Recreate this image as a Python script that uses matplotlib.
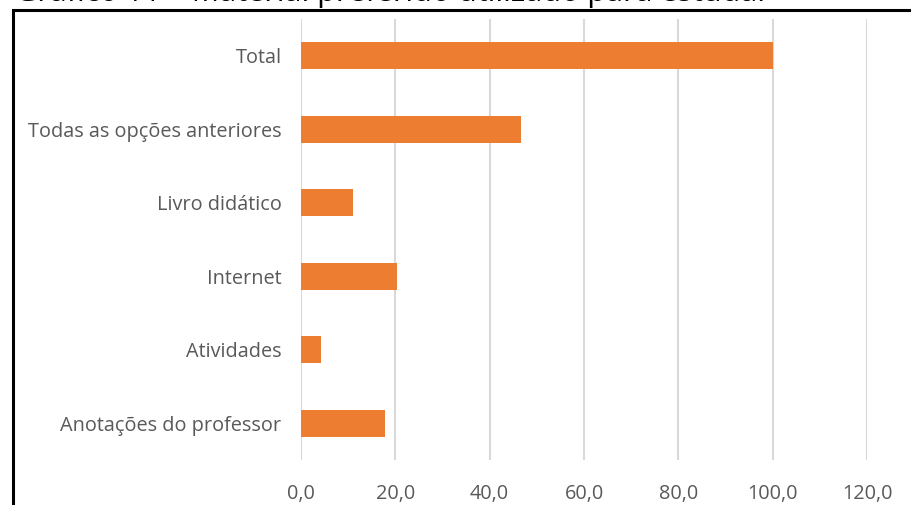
import matplotlib
matplotlib.use("Agg")
import matplotlib.pyplot as plt
from matplotlib.patches import Rectangle
from matplotlib import font_manager

categories = ["Anotações do professor", "Atividades", "Internet", "Livro didático",
              "Todas as opções anteriores", "Total"]
values = [17.8, 4.2, 20.3, 11.0, 46.6, 100.0]
xticks = [0, 20, 40, 60, 80, 100, 120]
xtick_labels = ["0,0", "20,0", "40,0", "60,0", "80,0", "100,0", "120,0"]
title = "Gráfico 11 – Material preferido utilizado para estudar"

names = {f.name for f in font_manager.fontManager.ttflist}
fam = [f for f in ["Liberation Sans Narrow", "Open Sans", "DejaVu Sans"] if f in names]
plt.rcParams["font.family"] = fam

W, H = 911, 505
fig = plt.figure(figsize=(W / 100, H / 100), dpi=100)
ax = fig.add_axes([301 / W, 1 - 460 / H, (867 - 301) / W, (460 - 19) / H])

ax.barh(range(len(categories)), values, height=0.37, color="#ED7D31", edgecolor="none", zorder=3)
ax.set_ylim(-0.5, len(categories) - 0.5)
ax.set_xlim(0, 120)
ax.set_xticks(xticks)
ax.set_xticklabels(xtick_labels)
ax.set_yticks(range(len(categories)))
ax.set_yticklabels(categories)
ax.grid(axis="x", color="#d9d9d9", linewidth=1.5, zorder=0)
for s in ax.spines.values():
    s.set_visible(False)
ax.tick_params(axis="both", length=0, labelsize=14.3, labelcolor="#595959")
ax.tick_params(axis="x", pad=17)
ax.tick_params(axis="y", pad=14)

# outer frame (cropped)
fig.patches.append(Rectangle((13 / W, -0.1), 1.2, 1.1 - 10 / H, transform=fig.transFigure,
                             fill=False, edgecolor="black", linewidth=2.2, clip_on=False))
# cropped title (only its lower edge is visible, as in the reference)
fig.text(15 / W, 1 - 1 / H, title, fontsize=22, va="baseline", ha="left", color="black")

fig.savefig("out.png", dpi=100)
